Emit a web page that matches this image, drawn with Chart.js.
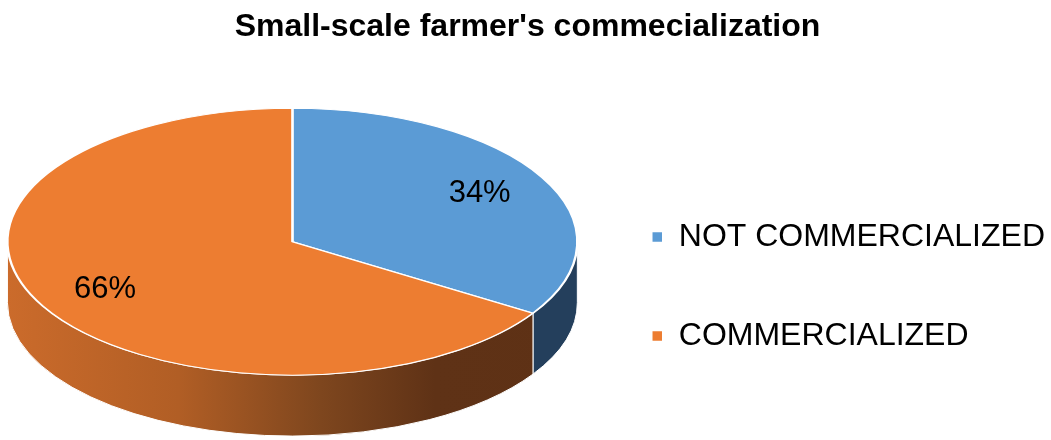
<!DOCTYPE html>
<html>
<head>
<meta charset="utf-8">
<title>Small-scale farmer's commecialization</title>
<script src="https://cdn.jsdelivr.net/npm/chart.js"></script>
<style>
    body { margin: 0; background: #ffffff; }
    #wrap { width: 1051px; height: 440px; }
</style>
</head>
<body>
<div id="wrap"><canvas id="myChart" width="1051" height="440"></canvas></div>
<script>
// Chart data
const categories = ['NOT COMMERCIALIZED', 'COMMERCIALIZED'];
const shares = [34, 66];
const sliceColors = ['#5B9BD5', '#ED7D31'];

// Look of the tilted pie
const stretchX = 1.614;  // widen the circle
const tilt = 0.756;      // squash it vertically
const depth = 0.345;     // height of the side wall, as part of the radius
const labelDist = 0.75;  // where the percent labels sit

// Build the side wall paint for a slice
function sidePaint(ctx, i, cx, rx) {
    if (i === 0) {
        return '#243F5C';
    }
    let grad = ctx.createLinearGradient(cx - rx, 0, cx + rx, 0);
    grad.addColorStop(0, '#CB6B2B');
    grad.addColorStop(0.3, '#B15E25');
    grad.addColorStop(0.55, '#7E461E');
    grad.addColorStop(0.75, '#5F3216');
    grad.addColorStop(1, '#5E3115');
    return grad;
}

// Plugin that draws the pie as a 3D disc
const pie3d = {
    id: 'pie3d',
    beforeDatasetsDraw(chart) {
        const ctx = chart.ctx;
        const arcs = chart.getDatasetMeta(0).data;
        const cx = arcs[0].x;
        const cy = arcs[0].y;
        const r = arcs[0].outerRadius;
        const rx = r * stretchX;
        const ry = r * tilt;
        const d = r * depth;

        // front side walls (angles between 0 and PI face the viewer)
        arcs.forEach((arc, i) => {
            let a = Math.max(arc.startAngle, 0);
            let b = Math.min(arc.endAngle, Math.PI);
            if (b <= a) return;
            ctx.save();
            ctx.beginPath();
            ctx.ellipse(cx, cy, rx, ry, 0, a, b);
            ctx.ellipse(cx, cy + d, rx, ry, 0, b, a, true);
            ctx.closePath();
            ctx.fillStyle = sidePaint(ctx, i, cx, rx);
            ctx.fill();
            ctx.strokeStyle = '#ffffff';
            ctx.lineWidth = 1;
            ctx.stroke();
            ctx.restore();
        });

        // squash the top face
        ctx.save();
        ctx.translate(cx, cy);
        ctx.scale(stretchX, tilt);
        ctx.translate(-cx, -cy);
    },
    afterDatasetsDraw(chart) {
        const ctx = chart.ctx;
        ctx.restore();

        // percent labels
        const arcs = chart.getDatasetMeta(0).data;
        const total = shares.reduce((s, v) => s + v, 0);
        ctx.save();
        ctx.font = '31px "Liberation Sans", Arial, sans-serif';
        ctx.fillStyle = '#000000';
        ctx.textAlign = 'center';
        ctx.textBaseline = 'middle';
        arcs.forEach((arc, i) => {
            let mid = (arc.startAngle + arc.endAngle) / 2;
            let lx = arc.x + Math.cos(mid) * arc.outerRadius * labelDist * stretchX;
            let ly = arc.y + Math.sin(mid) * arc.outerRadius * labelDist * tilt;
            ctx.fillText(Math.round(shares[i] / total * 100) + '%', lx, ly);
        });
        ctx.restore();
    }
};

// Initialize the chart
const ctx = document.getElementById('myChart').getContext('2d');
const chart = new Chart(ctx, {
    type: 'pie',
    data: {
        labels: categories,
        datasets: [{
            data: shares,
            backgroundColor: sliceColors,
            borderColor: '#ffffff',
            borderWidth: 1.5
        }]
    },
    options: {
        responsive: false,
        animation: false,
        layout: {
            padding: { left: 0, right: -4, top: 0, bottom: 21 }
        },
        plugins: {
            title: {
                display: true,
                text: "Small-scale farmer's commecialization",
                color: '#000000',
                font: { family: '"Liberation Sans", Arial, sans-serif', size: 32, weight: 'bold' },
                padding: { top: 8, bottom: 18 }
            },
            legend: {
                position: 'right',
                align: 'end',
                labels: {
                    color: '#000000',
                    boxWidth: 11,
                    boxHeight: 11,
                    padding: 67,
                    font: { family: '"Liberation Sans", Arial, sans-serif', size: 32 }
                }
            },
            tooltip: { enabled: false }
        }
    },
    plugins: [pie3d]
});
</script>
</body>
</html>
